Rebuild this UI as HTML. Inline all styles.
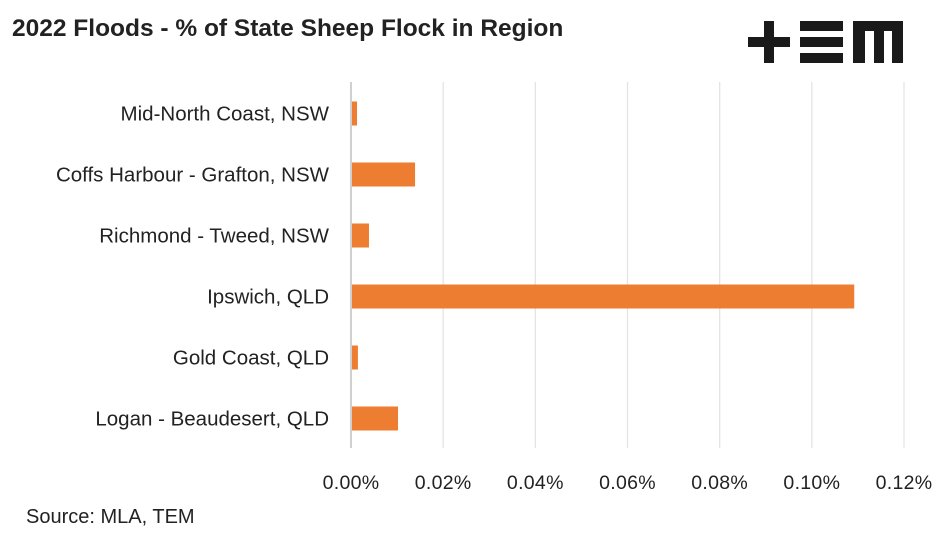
<!DOCTYPE html>
<html><head><meta charset="utf-8"><style>
body{margin:0;background:#fff;font-family:"Liberation Sans",sans-serif}
svg text{font-family:"Liberation Sans",sans-serif}
</style></head><body>
<svg width="947" height="541" xmlns="http://www.w3.org/2000/svg">
<text x="12" y="36" font-size="24.5" font-weight="bold" fill="#222">2022 Floods - % of State Sheep Flock in Region</text>
<g fill="#1a1a1a">
<rect x="748" y="37" width="42" height="10"/><rect x="764" y="21" width="10" height="42"/>
<rect x="800" y="21" width="43" height="10"/><rect x="800" y="37" width="43" height="10"/><rect x="800" y="53" width="43" height="10"/>
<rect x="853" y="21" width="50" height="10"/><rect x="853" y="21" width="12" height="42"/><rect x="874" y="21" width="10" height="42"/><rect x="892" y="21" width="11" height="42"/>
</g>
<g id="grid"></g><g id="bars"></g><g id="labels"></g>
<text x="26" y="523" font-size="20" fill="#222">Source: MLA, TEM</text>
</svg>
<script>
const categories=["Mid-North Coast, NSW","Coffs Harbour - Grafton, NSW","Richmond - Tweed, NSW","Ipswich, QLD","Gold Coast, QLD","Logan - Beaudesert, QLD"];
const values=[0.0013,0.0139,0.0039,0.1092,0.0015,0.0102];
const ticks=[0,0.02,0.04,0.06,0.08,0.10,0.12];
const tickLabels=["0.00%","0.02%","0.04%","0.06%","0.08%","0.10%","0.12%"];
const NS="http://www.w3.org/2000/svg";
const x0=351,x1=904,plotTop=82,plotBot=448;
const xs=v=>x0+(v/0.12)*(x1-x0);
const band=(plotBot-plotTop)/categories.length;
const yc=i=>plotTop+band*(i+0.5)+1;
function mk(t,a,p){const e=document.createElementNS(NS,t);for(const k in a)e.setAttribute(k,a[k]);p.appendChild(e);return e;}
const g=document.getElementById('grid'),b=document.getElementById('bars'),l=document.getElementById('labels');
ticks.forEach((t,i)=>{
 const ln=mk('line',{x1:xs(t),x2:xs(t),y1:plotTop,y2:plotBot,stroke:i==0?'#d0d0d0':'#e4e4e4','stroke-width':i==0?2:1.3},g);
 
 
 const tx=mk('text',{x:xs(t),y:489,'font-size':19.5,'text-anchor':'middle',fill:'#222','letter-spacing':'0.3'},g);
 tx.textContent=tickLabels[i];
 
 
});
categories.forEach((c,i)=>{
 const r=mk('rect',{x:x0+1,y:yc(i)-12,width:xs(values[i])-x0-1,height:24,fill:'#ed7d31'},b);
 
 
 const tx=mk('text',{x:329,y:yc(i)+7,'font-size':20.5,'text-anchor':'end',fill:'#222'},l);
 tx.textContent=c;
 
 
});
</script>
</body></html>
